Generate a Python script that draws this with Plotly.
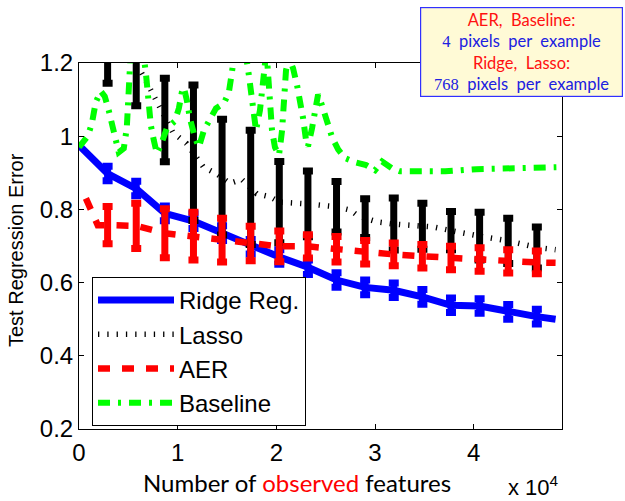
import plotly.graph_objects as go

# ---------------- data ----------------
marker_x = [2900, 5800, 8700, 11600, 14500, 17400, 20300, 23200,
            26100, 29000, 31900, 34800, 37700, 40600, 43500, 46400]

ridge_y = [0.898, 0.857, 0.789, 0.768, 0.735, 0.698, 0.670, 0.642,
           0.607, 0.587, 0.579, 0.561, 0.538, 0.536, 0.520, 0.507]
ridge_err = [0.02, 0.02, 0.02, 0.02, 0.02, 0.02, 0.02, 0.02,
             0.02, 0.02, 0.02, 0.02, 0.02, 0.02, 0.02, 0.02]
ridge_start = (0, 0.975)
ridge_end = (48300, 0.500)

lasso_y = [1.27, 1.19, 1.044, 0.955, 0.888, 0.86, 0.82, 0.815,
           0.807, 0.776, 0.76, 0.754, 0.742, 0.727, 0.714, 0.696]
lasso_err = [0.125, 0.107, 0.114, 0.185, 0.158, 0.156, 0.111, 0.09,
             0.069, 0.053, 0.071, 0.063, 0.052, 0.065, 0.062, 0.056]
lasso_line_x = [0, 2900, 5800, 6300, 7200, 8200, 8700, 9500, 10900, 11600,
                12600, 13900, 14500, 15300, 16500, 17400, 18000, 19400, 20300,
                23200, 24400, 26100, 27500, 28200, 29000, 30200, 31900, 34800,
                35900, 37700, 39000, 40600, 43500, 46400, 48300]
lasso_line_y = [1.36, 1.27, 1.19, 1.175, 1.13, 1.08, 1.05, 1.011, 0.98, 0.955,
                0.916, 0.898, 0.888, 0.871, 0.882, 0.86, 0.843, 0.834, 0.82,
                0.815, 0.812, 0.807, 0.798, 0.784, 0.776, 0.766, 0.76, 0.754,
                0.752, 0.742, 0.734, 0.727, 0.714, 0.696, 0.69]

aer_y = [0.757, 0.755, 0.735, 0.727, 0.716, 0.707, 0.699, 0.699,
         0.691, 0.683, 0.677, 0.672, 0.667, 0.663, 0.658, 0.655]
aer_err = [0.051, 0.062, 0.067, 0.065, 0.060, 0.047, 0.042, 0.032,
           0.035, 0.032, 0.031, 0.032, 0.032, 0.032, 0.032, 0.031]
aer_head_x = [700, 1400, 1900]
aer_head_y = [0.830, 0.792, 0.757]
aer_end = (48300, 0.654)

base_x = [0, 880, 1290, 1700, 2200, 2610, 3010, 3420, 3730, 4030,
          4540, 4840, 4990, 5050, 5250, 5860, 6470, 6770, 6970, 7080,
          7280, 7580, 7890, 8290, 8900, 9710, 10120, 10420, 10630, 10930,
          11240, 11740, 12150, 12660, 13270, 13880, 14690, 15190, 15500, 15800,
          16410, 16920, 17220, 17530, 17730, 17940, 18340, 18650, 18850, 19000,
          19150, 19360, 19560, 19860, 20270, 20580, 20780, 20980, 21290, 21690,
          22100, 22400, 22710, 23010, 23210, 23620, 23920, 24230, 24630, 25140,
          25650, 26260, 26970, 27980, 29100, 30010, 30720, 31740, 32550, 34580,
          37120, 40270, 43410, 46460, 48380]
base_y = [0.970, 1.000, 1.033, 1.093, 1.123, 1.109, 1.071, 1.027, 0.984, 0.956,
          0.967, 1.022, 1.098, 1.175, 1.235, 1.262, 1.235, 1.175, 1.112, 1.071,
          1.030, 0.989, 0.953, 0.975, 1.022, 1.041, 1.076, 1.120, 1.133, 1.098,
          1.049, 0.997, 0.970, 1.016, 1.049, 1.076, 1.090, 1.120, 1.175, 1.235,
          1.257, 1.221, 1.166, 1.098, 1.038, 1.016, 1.071, 1.153, 1.221, 1.235,
          1.175, 1.085, 1.016, 0.970, 0.948, 1.016, 1.112, 1.180, 1.213, 1.186,
          1.139, 1.098, 1.049, 0.989, 0.972, 1.022, 1.076, 1.114, 1.084, 1.038,
          0.997, 0.964, 0.940, 0.929, 0.921, 0.907, 0.931, 0.912, 0.904, 0.904,
          0.904, 0.910, 0.912, 0.912, 0.915]

x_tickvals = [0, 10000, 20000, 30000, 40000]
x_ticktext = ['0', '1', '2', '3', '4']
y_tickvals = [0.2, 0.4, 0.6, 0.8, 1.0, 1.2]
y_ticktext = ['0.2', '0.4', '0.6', '0.8', '1', '1.2']

# ---------------- layout helpers ----------------
W, H = 625, 501
ML, MR, MT, MB = 79, 63, 63, 72
PW = W - ML - MR
PH = H - MT - MB


def px_x(p):
    return (p - ML) / PW


def px_y(p):
    return (H - MB - p) / PH


BLUE = '#0000FF'
RED = '#FF0000'
GREEN = '#00FF00'
BLACK = '#000000'
SANS = 'Liberation Sans, Arial, sans-serif'
TEX = 'Lato, Open Sans, sans-serif'

fig = go.Figure()

# Ridge
fig.add_trace(go.Scatter(
    x=[ridge_start[0]] + marker_x + [ridge_end[0]],
    y=[ridge_start[1]] + ridge_y + [ridge_end[1]],
    mode='lines', name='Ridge Reg.',
    line=dict(color=BLUE, width=7)))
fig.add_trace(go.Scatter(
    x=marker_x, y=ridge_y, mode='markers', showlegend=False, hoverinfo='skip',
    marker=dict(size=1, color='rgba(0,0,0,0)'),
    error_y=dict(type='data', array=ridge_err, color=BLUE, thickness=7, width=5)))

# Lasso
fig.add_trace(go.Scatter(
    x=lasso_line_x, y=lasso_line_y, mode='lines', name='Lasso',
    line=dict(color=BLACK, width=5.5, dash='1.3px,8px')))
fig.add_trace(go.Scatter(
    x=marker_x, y=lasso_y, mode='markers', showlegend=False, hoverinfo='skip',
    marker=dict(size=1, color='rgba(0,0,0,0)'),
    error_y=dict(type='data', array=lasso_err, color=BLACK, thickness=7, width=5)))

# AER
fig.add_trace(go.Scatter(
    x=aer_head_x + marker_x + [aer_end[0]],
    y=aer_head_y + aer_y + [aer_end[1]],
    mode='lines', name='AER',
    line=dict(color=RED, width=6.5, dash='12px,12px')))
fig.add_trace(go.Scatter(
    x=marker_x, y=aer_y, mode='markers', showlegend=False, hoverinfo='skip',
    marker=dict(size=1, color='rgba(0,0,0,0)'),
    error_y=dict(type='data', array=aer_err, color=RED, thickness=7, width=5)))

# Baseline
fig.add_trace(go.Scatter(
    x=base_x, y=base_y, mode='lines', name='Baseline',
    line=dict(color=GREEN, width=6, dash='12px,8px,3px,8px')))

axis_common = dict(
    showline=True, linecolor=BLACK, linewidth=1, mirror='ticks',
    ticks='inside', ticklen=5, tickwidth=1, tickcolor=BLACK,
    showgrid=False, zeroline=False, automargin=False,
    tickfont=dict(family=SANS, size=24, color=BLACK))

fig.update_layout(
    template='none',
    width=W, height=H,
    margin=dict(l=ML, r=MR, t=MT, b=MB, pad=0),
    paper_bgcolor='white', plot_bgcolor='white',
    xaxis=dict(range=[0, 48950], tickvals=x_tickvals, ticktext=x_ticktext,
               ticklabelstandoff=2, **axis_common),
    yaxis=dict(range=[0.2, 1.2], tickvals=y_tickvals, ticktext=y_ticktext,
               ticklabelstandoff=0, **axis_common),
    legend=dict(x=px_x(92), y=px_y(277), xanchor='left', yanchor='top',
                bgcolor='white', bordercolor=BLACK, borderwidth=1,
                font=dict(family=SANS, size=24, color=BLACK),
                itemwidth=76, tracegroupgap=0),
    showlegend=True,
)

ann = []
ann.append(dict(text='Test Regression Error', textangle=-90,
                x=px_x(16), y=px_y(250), xref='paper', yref='paper',
                xanchor='center', yanchor='middle',
                showarrow=False, font=dict(family=SANS, size=20, color=BLACK)))
ann.append(dict(text="Number of <span style='color:#FF0000'>observed</span> features",
                x=px_x(297), y=px_y(482), xref='paper', yref='paper',
                xanchor='center', yanchor='middle',
                showarrow=False, font=dict(family=TEX, size=24, color=BLACK)))
ann.append(dict(text='x 10<sup>4</sup>',
                x=px_x(533), y=px_y(486), xref='paper', yref='paper',
                xanchor='center', yanchor='middle',
                showarrow=False, font=dict(family=SANS, size=22, color=BLACK)))
box_text = ("<span style='color:#FF1010'>AER,&nbsp; Baseline:</span><br>"
            "<span style='color:#2020E0'><span style='font-family:Liberation Serif'>4</span>&nbsp; pixels&nbsp; per&nbsp; example</span><br>"
            "<span style='color:#FF1010'>Ridge,&nbsp; Lasso:</span><br>"
            "<span style='color:#2020E0'><span style='font-family:Liberation Serif'>768</span>&nbsp; pixels&nbsp; per&nbsp; example</span>")
ann.append(dict(text=box_text, x=px_x(521.5), y=px_y(52), xref='paper', yref='paper',
                xanchor='center', yanchor='middle', showarrow=False,
                width=197, height=84, align='center', valign='middle',
                bgcolor='#FFFAD6', bordercolor='#3030FF', borderwidth=1.2, borderpad=2,
                font=dict(family=TEX, size=16.5, color='#2020E0')))
fig.update_layout(annotations=ann)

fig.write_html('out.html', config={'displayModeBar': False},
               post_script="document.body.style.margin='0';")
